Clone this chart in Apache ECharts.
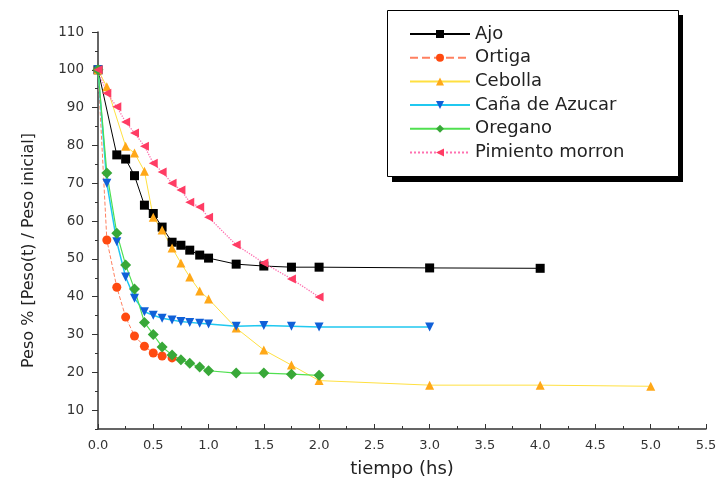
<!DOCTYPE html>
<html>
<head>
<meta charset="utf-8">
<script src="https://cdn.jsdelivr.net/npm/echarts@6/dist/echarts.min.js"></script>
<style>html,body{margin:0;padding:0;background:#fff}#c{width:720px;height:490px}</style>
</head>
<body>
<div id="c"></div>
<script>
var seriesNames = ['Ajo', 'Ortiga', 'Cebolla', 'Caña de Azucar', 'Oregano', 'Pimiento morron'];
var xTickLabels = ['0.0','0.5','1.0','1.5','2.0','2.5','3.0','3.5','4.0','4.5','5.0','5.5'];
var yTickLabels = [10,20,30,40,50,60,70,80,90,100,110];

var ajoX = [0, 0.17, 0.25, 0.33, 0.42, 0.5, 0.58, 0.67, 0.75, 0.83, 0.92, 1.0, 1.25, 1.5, 1.75, 2.0, 3.0, 4.0];
var ajoY = [100, 77.5, 76.4, 72, 64.2, 62, 58.4, 54.4, 53.6, 52.3, 51, 50.2, 48.6, 48.1, 47.8, 47.8, 47.6, 47.5];

var ortigaX = [0, 0.08, 0.17, 0.25, 0.33, 0.42, 0.5, 0.58, 0.67];
var ortigaY = [100, 55, 42.5, 34.6, 29.6, 26.9, 25.1, 24.3, 23.8];

var cebollaX = [0, 0.08, 0.25, 0.33, 0.42, 0.5, 0.58, 0.67, 0.75, 0.83, 0.92, 1.0, 1.25, 1.5, 1.75, 2.0, 3.0, 4.0, 5.0];
var cebollaY = [100, 95.5, 79.8, 78, 73.2, 61, 57.6, 52.9, 48.9, 45.2, 41.5, 39.4, 31.7, 25.9, 21.9, 17.8, 16.6, 16.6, 16.3];

var canaX = [0, 0.08, 0.17, 0.25, 0.33, 0.42, 0.5, 0.58, 0.67, 0.75, 0.83, 0.92, 1.0, 1.25, 1.5, 1.75, 2.0, 3.0];
var canaY = [100, 70, 54.5, 45.2, 39.6, 36, 35.1, 34.3, 33.8, 33.4, 33.2, 33, 32.8, 32.2, 32.4, 32.2, 32, 32];

var oreganoX = [0, 0.08, 0.17, 0.25, 0.33, 0.42, 0.5, 0.58, 0.67, 0.75, 0.83, 0.92, 1.0, 1.25, 1.5, 1.75, 2.0];
var oreganoY = [100, 72.7, 56.8, 48.4, 42, 33.2, 30, 26.7, 24.6, 23.3, 22.4, 21.4, 20.4, 19.8, 19.8, 19.5, 19.2];

var pimientoX = [0, 0.08, 0.17, 0.25, 0.33, 0.42, 0.5, 0.58, 0.67, 0.75, 0.83, 0.92, 1.0, 1.25, 1.5, 1.75, 2.0];
var pimientoY = [100, 93.8, 90.2, 86.2, 83.3, 79.8, 75.3, 73, 70, 68.2, 65, 63.7, 61, 53.7, 48.9, 44.7, 39.9];

function pairs(xs, ys) { return xs.map(function (x, i) { return [x, ys[i]]; }); }

var FONT = '"DejaVu Sans", Verdana, sans-serif';
var chart = echarts.init(document.getElementById('c'));

function mk(name, xs, ys, symbol, rot, mColor, lColor, lType, lWidth) {
  return {
    name: name, type: 'line', data: pairs(xs, ys),
    symbol: symbol, symbolSize: symbol === 'diamond' ? 11 : 9, symbolRotate: rot,
    itemStyle: { color: mColor },
    lineStyle: { color: lColor, width: lWidth, type: lType },
    emphasis: { disabled: true }, animation: false
  };
}

chart.setOption({
  animation: false,
  grid: { left: 98, right: 14, top: 32, bottom: 61 },
  graphic: [{
    type: 'rect', z: 1,
    shape: { x: 392, y: 15, width: 291, height: 167 },
    style: { fill: '#000', stroke: null }
  }, {
    type: 'rect', z: 2,
    shape: { x: 387.5, y: 10.5, width: 291, height: 166 },
    style: { fill: '#fff', stroke: '#000', lineWidth: 1 }
  }],
  legend: {
    z: 5, orient: 'vertical', left: 404, top: 20,
    itemWidth: 60, itemHeight: 10, itemGap: 5.7,
    textStyle: { fontFamily: FONT, fontSize: 18, color: '#222' },
    data: seriesNames
  },
  xAxis: {
    type: 'value', min: 0, max: 5.5, interval: 0.5,
    name: 'tiempo (hs)', nameLocation: 'middle', nameGap: 31,
    nameTextStyle: { fontFamily: FONT, fontSize: 18, color: '#222' },
    axisLine: { lineStyle: { color: '#333', width: 1.5 } },
    axisTick: { inside: true, length: 5, lineStyle: { color: '#333' } },
    minorTick: { show: true, splitNumber: 2, length: 3, lineStyle: { color: '#333' } },
    splitLine: { show: false },
    axisLabel: { fontFamily: FONT, fontSize: 13, color: '#333', margin: 10,
      formatter: function (v) { return xTickLabels[Math.round(v / 0.5)]; } }
  },
  yAxis: [{
    type: 'value', min: 5, max: 110, interval: 5,
    name: 'Peso % [Peso(t) / Peso inicial]', nameLocation: 'middle', nameGap: 61,
    nameTextStyle: { fontFamily: FONT, fontSize: 16, color: '#222', padding: [0, 40, 0, 0] },
    axisLine: { show: true, lineStyle: { color: '#333', width: 1.5 } },
    axisTick: { show: true, length: 3, lineStyle: { color: '#333' } },
    splitLine: { show: false },
    axisLabel: { show: false }
  }, {
    type: 'value', min: 5, max: 110, position: 'left',
    axisLine: { show: false },
    axisTick: { show: true, length: 6, customValues: yTickLabels, lineStyle: { color: '#333' } },
    splitLine: { show: false },
    axisLabel: { show: true, customValues: yTickLabels, fontFamily: FONT, fontSize: 13.5, color: '#333', margin: 14 }
  }],
  series: [
    mk('Ajo', ajoX, ajoY, 'rect', 0, '#000', '#000', 'solid', 1),
    mk('Ortiga', ortigaX, ortigaY, 'circle', 0, '#ff4a10', '#ff8060', 'dashed', 1),
    mk('Cebolla', cebollaX, cebollaY, 'triangle', 0, '#ffa818', '#ffe040', 'solid', 1),
    mk('Caña de Azucar', canaX, canaY, 'triangle', 180, '#1060d8', '#20c8f0', 'solid', 1.5),
    mk('Oregano', oreganoX, oreganoY, 'diamond', 0, '#38a838', '#50e050', 'solid', 1.2),
    mk('Pimiento morron', pimientoX, pimientoY, 'triangle', 90, '#ff3c64', '#ff70b0', 'dotted', 1.3)
  ]
});
</script>
</body>
</html>
